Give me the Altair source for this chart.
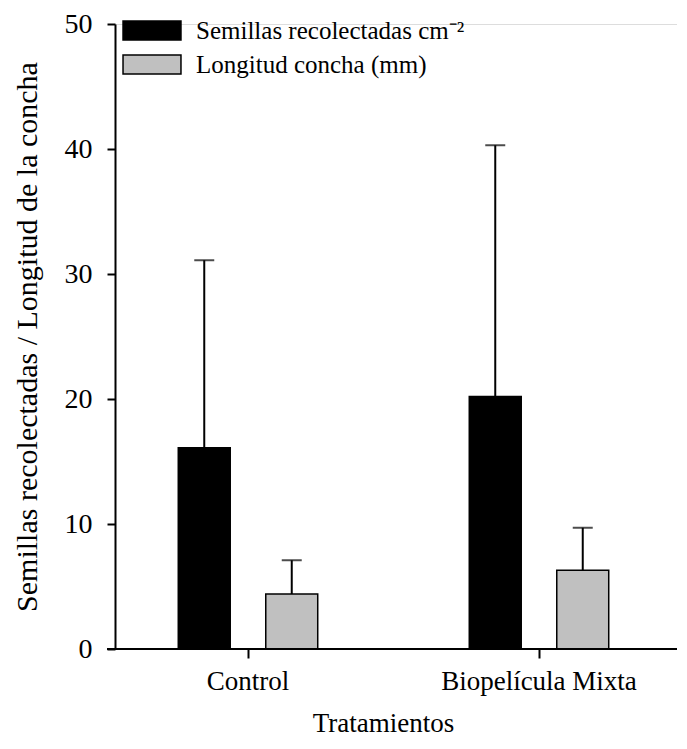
import altair as alt
import pandas as pd

treatments = ["Control", "Biopelícula Mixta"]
series = ["Semillas recolectadas cm⁻²", "Longitud concha (mm)"]
means_semillas = [16.1, 20.2]
upper_semillas = [31.1, 40.3]
means_longitud = [4.4, 6.3]
upper_longitud = [7.1, 9.7]
colors = ["#000000", "#c0c0c0"]
y_ticks = [0, 10, 20, 30, 40, 50]

rows = []
for i, t in enumerate(treatments):
    rows.append({"trat": t, "serie": series[0], "media": means_semillas[i], "sup": upper_semillas[i]})
    rows.append({"trat": t, "serie": series[1], "media": means_longitud[i], "sup": upper_longitud[i]})
df = pd.DataFrame(rows)

FONT = "Liberation Serif"
W = 562
H = 625

x_enc = alt.X("trat:N", sort=treatments,
              scale=alt.Scale(range=[-12.5, 569.5], paddingInner=0, paddingOuter=0),
              axis=alt.Axis(title="Tratamientos", labelAngle=0, domain=False,
                            tickSize=9, tickWidth=2, tickColor="black",
                            labelPadding=10, titlePadding=16, labelLimit=400,
                            titleX=268,
                            labelFontSize=27, titleFontSize=27,
                            labelFont=FONT, titleFont=FONT,
                            labelColor="black", titleColor="black",
                            titleFontWeight="normal"))
xo_enc = alt.XOffset("serie:N", sort=series,
                     scale=alt.Scale(paddingInner=0.406, paddingOuter=0.866))
y_scale = alt.Scale(domain=[0, 50], nice=False)

bars = alt.Chart(df).mark_bar(stroke="black", strokeWidth=1.5).encode(
    x=x_enc,
    xOffset=xo_enc,
    y=alt.Y("media:Q", scale=y_scale,
            axis=alt.Axis(title="Semillas recolectadas / Longitud de la concha",
                          values=y_ticks, grid=False,
                          domainColor="black", domainWidth=2,
                          tickSize=8, tickWidth=2, tickColor="black",
                          labelPadding=15, titlePadding=22,
                          labelFontSize=28, titleFontSize=30,
                          labelFont=FONT, titleFont=FONT,
                          labelColor="black", titleColor="black",
                          titleFontWeight="normal")),
    fill=alt.Fill("serie:N", sort=series,
                  scale=alt.Scale(domain=series, range=colors),
                  legend=alt.Legend(title=None, orient="none", legendX=24.5, legendY=-6,
                                    symbolType="M-3.05,-1H3.05V1H-3.05Z",
                                    symbolSize=361, symbolStrokeColor="black",
                                    symbolStrokeWidth=1.5, symbolOpacity=1,
                                    labelFont=FONT, labelFontSize=25,
                                    labelColor="black", labelOffset=31.5,
                                    rowPadding=8, padding=0, labelLimit=400)),
)

err = alt.Chart(df).mark_rule(color="black", strokeWidth=2).encode(
    x=alt.X("trat:N", sort=treatments),
    xOffset=alt.XOffset("serie:N", sort=series),
    y=alt.Y("media:Q"),
    y2="sup:Q",
)

caps = alt.Chart(df).mark_tick(color="black", size=20, thickness=2).encode(
    x=alt.X("trat:N", sort=treatments),
    xOffset=alt.XOffset("serie:N", sort=series),
    y=alt.Y("sup:Q"),
)

axis_line = alt.Chart(df).mark_rule(color="black", strokeWidth=2).encode(
    x=alt.value(-8), x2=alt.value(W), y=alt.datum(0)
)

chart = alt.layer(bars, err, caps, axis_line).properties(
    width=W, height=H,
    autosize=alt.AutoSizeParams(type="none"),
    padding={"left": 107, "top": 16, "right": 0, "bottom": 92},
).configure_view(stroke=None).configure(background="white")

chart.save("out.html", embed_options={"renderer": "svg", "actions": False})
